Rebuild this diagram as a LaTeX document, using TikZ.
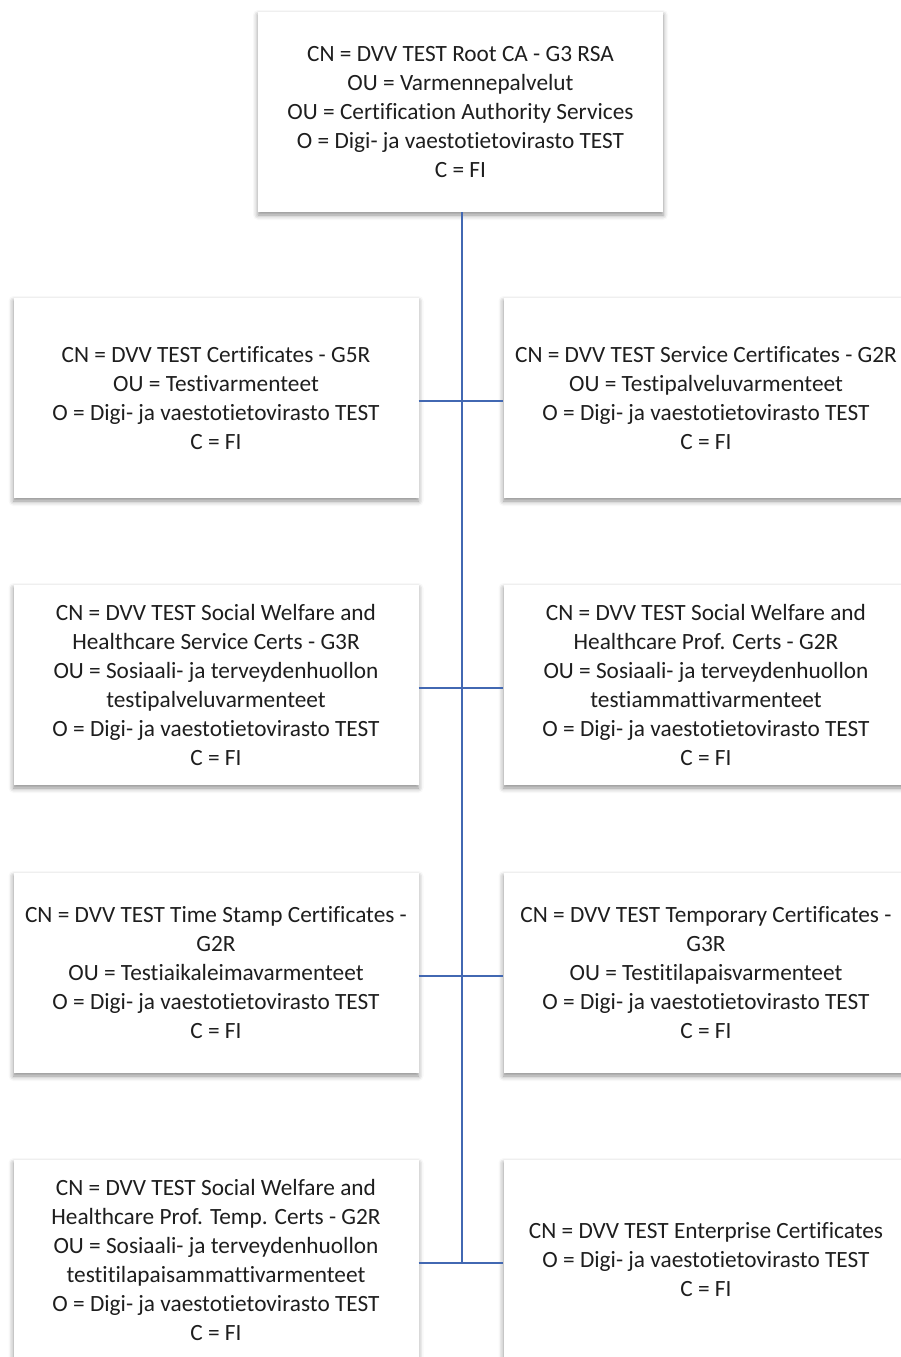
\documentclass[tikz,border=0pt]{standalone}
\usepackage{fontspec}
\setmainfont[Ligatures={NoCommon}]{Carlito}
\usetikzlibrary{shadows.blur}
\definecolor{linkblue}{RGB}{66,104,178}
\definecolor{txt}{RGB}{30,30,30}
\tikzset{
  certbox/.style={fill=white, minimum width=405pt, minimum height=200pt, inner sep=0pt,
    align=center, text=txt, font=\fontsize{23.3}{29}\selectfont,
    blur shadow={shadow xshift=0pt, shadow yshift=-3pt, shadow blur radius=5pt, shadow opacity=45}},
  link/.style={draw=linkblue, line width=2pt}
}
\begin{document}
\begin{tikzpicture}[x=1pt,y=-1pt]
\useasboundingbox (0,0) rectangle (900,1357);
\node[certbox] (root) at (460.5,112) {CN = DVV TEST Root CA - G3 RSA\\OU = Varmennepalvelut\\OU = Certification Authority Services\\O = Digi- ja vaestotietovirasto TEST\\C = FI};
\node[certbox] (L1) at (216,398) {CN = DVV TEST Certificates - G5R\\OU = Testivarmenteet\\O = Digi- ja vaestotietovirasto TEST\\C = FI};
\node[certbox] (R1) at (706,398) {CN = DVV TEST Service Certificates - G2R\\OU = Testipalveluvarmenteet\\O = Digi- ja vaestotietovirasto TEST\\C = FI};
\node[certbox] (L2) at (216,685) {CN = DVV TEST Social Welfare and\\Healthcare Service Certs - G3R\\OU = Sosiaali- ja terveydenhuollon\\testipalveluvarmenteet\\O = Digi- ja vaestotietovirasto TEST\\C = FI};
\node[certbox] (R2) at (706,685) {CN = DVV TEST Social Welfare and\\Healthcare Prof. Certs - G2R\\OU = Sosiaali- ja terveydenhuollon\\testiammattivarmenteet\\O = Digi- ja vaestotietovirasto TEST\\C = FI};
\node[certbox] (L3) at (216,973) {CN = DVV TEST Time Stamp Certificates -\\G2R\\OU = Testiaikaleimavarmenteet\\O = Digi- ja vaestotietovirasto TEST\\C = FI};
\node[certbox] (R3) at (706,973) {CN = DVV TEST Temporary Certificates -\\G3R\\OU = Testitilapaisvarmenteet\\O = Digi- ja vaestotietovirasto TEST\\C = FI};
\node[certbox] (L4) at (216,1260) {CN = DVV TEST Social Welfare and\\Healthcare Prof. Temp. Certs - G2R\\OU = Sosiaali- ja terveydenhuollon\\testitilapaisammattivarmenteet\\O = Digi- ja vaestotietovirasto TEST\\C = FI};
\node[certbox] (R4) at (706,1260) {CN = DVV TEST Enterprise Certificates\\O = Digi- ja vaestotietovirasto TEST\\C = FI};
\coordinate (bottom) at ([yshift=-2pt]root.south |- L4.east);
\draw[link] ([xshift=1.5pt]root.south) -- ([xshift=1.5pt]bottom);
\foreach \r in {1,2,3,4}{
  \draw[link] ([yshift=-2.5pt]L\r.east) -- ([yshift=-2.5pt]R\r.west);
}
\end{tikzpicture}
\end{document}
